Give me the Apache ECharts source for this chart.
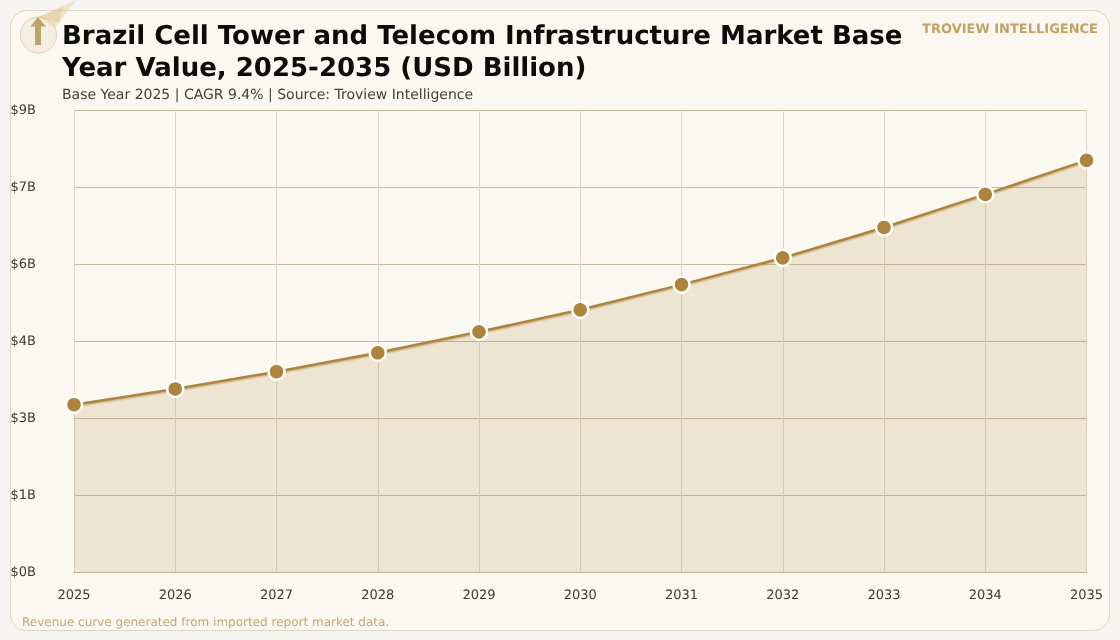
<!DOCTYPE html>
<html>
<head>
<meta charset="utf-8">
<style>
  html, body { margin: 0; padding: 0; background: #f5f4f0; }
  #chart { width: 1120px; height: 640px; }
  #chart text { text-rendering: geometricPrecision; }
  #chart svg { opacity: 0.999; }
</style>
<script src="https://cdn.jsdelivr.net/npm/echarts@6/dist/echarts.min.js"></script>
</head>
<body>
<div id="chart"></div>
<script>
const years = ['2025', '2026', '2027', '2028', '2029', '2030', '2031', '2032', '2033', '2034', '2035'];
const marketValues = [3.20, 3.50, 3.83, 4.19, 4.59, 5.01, 5.49, 6.00, 6.58, 7.21, 7.86];
const axisMax = 8.82;
const axisStep = 1.47;

const titleText = 'Brazil Cell Tower and Telecom Infrastructure Market Base\nYear Value, 2025-2035 (USD Billion)';
const subtitleText = 'Base Year 2025 | CAGR 9.4% | Source: Troview Intelligence';
const brandText = 'TROVIEW INTELLIGENCE';
const footerText = 'Revenue curve generated from imported report market data.';

const fontFamily = '"DejaVu Sans", sans-serif';
const chart = echarts.init(document.getElementById('chart'), null, { renderer: 'svg' });

chart.setOption({
  animation: false,
  backgroundColor: '#f5f4f0',
  textStyle: { fontFamily },
  grid: { left: 74, right: 33.5, top: 110, bottom: 67.5, containLabel: false },
  xAxis: {
    type: 'category',
    data: years,
    boundaryGap: false,
    axisLine: { show: true, lineStyle: { color: '#c4b495', width: 1 } },
    axisTick: { show: false },
    axisLabel: { color: '#3f3a33', fontSize: 13, margin: 16, fontFamily, hideOverlap: false, interval: 0 },
    splitLine: { show: true, lineStyle: { color: '#ddd5c6', width: 1 } }
  },
  yAxis: {
    type: 'value',
    min: 0,
    max: axisMax,
    interval: axisStep,
    axisLine: { show: false },
    axisTick: { show: false },
    axisLabel: {
      color: '#3f3a33',
      fontSize: 13,
      fontFamily,
      margin: 38,
      align: 'right',
      formatter: v => '$' + Math.round(v) + 'B'
    },
    splitLine: { show: true, lineStyle: { color: '#c5b9a3', width: 1 } }
  },
  series: [{
    type: 'line',
    data: marketValues,
    smooth: false,
    symbol: 'circle',
    symbolSize: 16,
    showSymbol: true,
    lineStyle: { color: '#ae843c', width: 2.5, shadowColor: 'rgba(176,138,68,0.45)', shadowBlur: 0, shadowOffsetY: 1.5 },
    itemStyle: { color: '#ae843c', borderColor: '#ffffff', borderWidth: 2.5 },
    areaStyle: { color: 'rgba(176,138,68,0.26)' },
    z: 5
  }],
  graphic: [
    { type: 'rect', z: -10, shape: { x: 10.5, y: 10.5, width: 1099, height: 620, r: 16 },
      style: { fill: '#fbf8f1', stroke: '#ddd6c6', lineWidth: 1 } },
    { type: 'circle', z: 10, shape: { cx: 38.5, cy: 35, r: 18 },
      style: { fill: '#f5efe3', stroke: '#e2d3b5', lineWidth: 1 } },
    { type: 'polygon', z: 11, shape: { points: [[38, 17], [76, 0], [55, 28]] },
      style: { fill: 'rgba(222,198,140,0.35)' } },
    { type: 'polygon', z: 11, shape: { points: [[38, 17], [63, 7], [59, 23]] },
      style: { fill: 'rgba(222,198,140,0.50)' } },
    { type: 'polygon', z: 12, shape: { points: [[38, 17], [46, 26.5], [41, 26.5], [41, 45], [35, 45], [35, 26.5], [30.5, 26.5]] },
      style: { fill: '#bca468' } },
    { type: 'text', z: 20, style: { x: 62, y: 20, text: titleText, font: 'bold 26px ' + fontFamily, lineHeight: 32, fill: '#0c0c0c' } },
    { type: 'text', z: 20, style: { x: 62, y: 88, text: subtitleText, font: '14px ' + fontFamily, fill: '#45403a' } },
    { type: 'text', z: 20, style: { x: 1098, y: 23, text: brandText, align: 'right', font: 'bold 13px ' + fontFamily, fill: '#c0a365' } },
    { type: 'text', z: 20, style: { x: 22, y: 616, text: footerText, font: '12px ' + fontFamily, fill: '#bfa873' } }
  ]
});
</script>
</body>
</html>
